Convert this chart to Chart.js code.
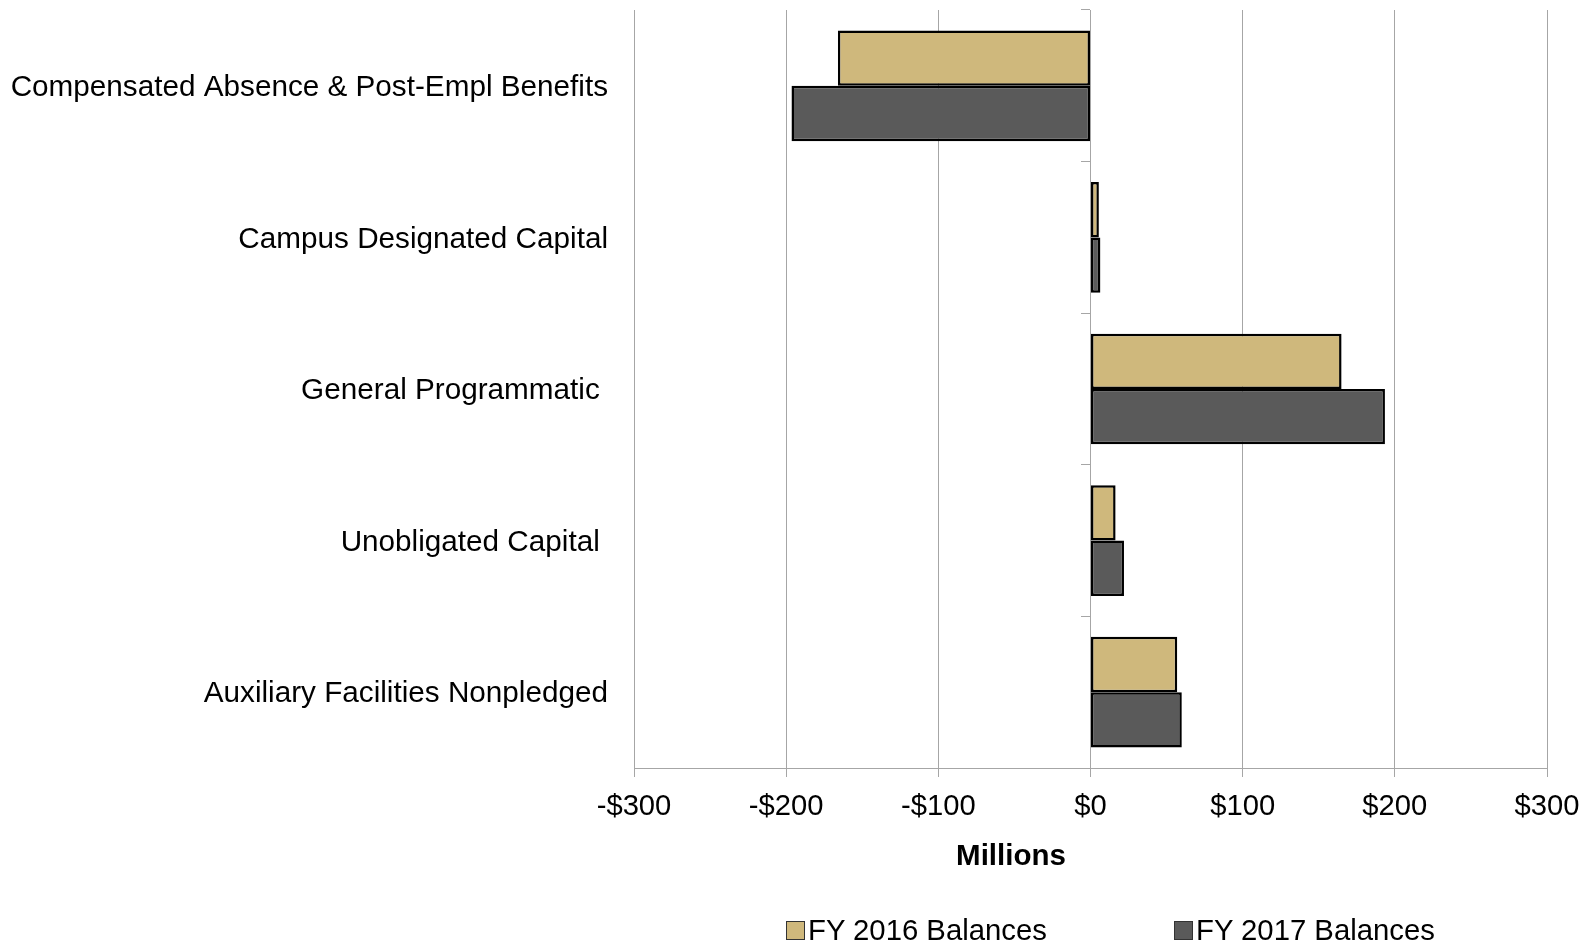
<!DOCTYPE html>
<html>
<head>
<meta charset="utf-8">
<script src="https://cdn.jsdelivr.net/npm/chart.js@4.4.0/dist/chart.umd.min.js"></script>
<style>
  html, body { margin: 0; padding: 0; background: #fff; }
  #wrap { position: relative; width: 1585px; height: 944px; }
  #legend { position: absolute; left: 0; top: 0; width: 1585px; height: 944px; pointer-events: none;
            font-family: "Liberation Sans", Arial, sans-serif; font-size: 29.3px; color: #000; }
  .item { position: absolute; top: 913px; height: 34px; line-height: 34px; white-space: nowrap; }
  .box { display: inline-block; width: 17px; height: 17px; border: 1px solid #333; vertical-align: middle; margin-right: 3px; position: relative; top: -2px; }
</style>
</head>
<body>
<div id="wrap">
  <canvas id="c" width="1585" height="944"></canvas>
  <div id="legend"></div>
</div>
<script>
const categories = [
  "Compensated Absence & Post-Empl Benefits",
  "Campus Designated Capital",
  "General Programmatic ",
  "Unobligated Capital ",
  "Auxiliary Facilities Nonpledged"
];
const seriesNames = ["FY 2016 Balances", "FY 2017 Balances"];
const fy2016 = [-166, 5.5, 165, 16.5, 57];
const fy2017 = [-196.5, 6.5, 193.5, 22, 60];
const tickValues = [-300, -200, -100, 0, 100, 200, 300];
const axisTitle = "Millions";
const colors = ["#CFB87C", "#5A5A5A"];

const FONT = '"Liberation Sans", Arial, sans-serif';
const grey = "#a6a6a6";

const titlePlugin = {
  id: "xTitle",
  afterDraw(chart) {
    const ctx = chart.ctx;
    ctx.save();
    ctx.font = "bold 29.5px " + FONT;
    ctx.fillStyle = "#000";
    ctx.textAlign = "center";
    ctx.textBaseline = "middle";
    ctx.fillText(axisTitle, 1011, 857);
    ctx.restore();
  }
};

function zeroPad(scale) {
  scale.paddingTop = 0; scale.paddingBottom = 0;
}

new Chart(document.getElementById("c"), {
  type: "bar",
  data: {
    labels: categories,
    datasets: [
      { label: seriesNames[0], data: fy2016, backgroundColor: colors[0], borderColor: "#000", borderWidth: 2.5, borderSkipped: false, yAxisID: "y" },
      { label: seriesNames[1], data: fy2017, backgroundColor: colors[1], borderColor: "#000", borderWidth: 2.5, borderSkipped: false, yAxisID: "y" }
    ]
  },
  options: {
    indexAxis: "y",
    responsive: false,
    animation: false,
    datasets: { bar: { categoryPercentage: 0.73, barPercentage: 1.0 } },
    layout: { padding: { left: 0, right: 38, top: 10, bottom: 118 } },
    plugins: { legend: { display: false }, tooltip: { enabled: false } },
    scales: {
      x: {
        type: "linear",
        min: -300, max: 300,
        afterBuildTicks(scale) { scale.ticks = tickValues.map(v => ({ value: v })); },
        afterFit(scale) { scale.height = 58; scale.paddingLeft = 0; scale.paddingRight = 0; },
        grid: { color: grey, lineWidth: 1, tickLength: 9, drawTicks: true },
        border: { display: true, color: grey, width: 1 },
        ticks: {
          padding: 12,
          color: "#000",
          font: { family: FONT, size: 29.2 },
          callback: v => (v < 0 ? "-$" + Math.abs(v) : "$" + v)
        }
      },
      y: {
        type: "category",
        position: "left",
        afterFit(scale) { scale.width = 634; zeroPad(scale); },
        grid: { display: false, drawTicks: false },
        border: { display: false },
        ticks: { padding: 26, labelOffset: 2, color: "#000", font: { family: FONT, size: 29.7 } }
      },
      y2: {
        type: "category",
        labels: categories,
        position: { x: 0 },
        offset: true,
        afterFit(scale) { zeroPad(scale); },
        grid: { display: true, offset: true, drawOnChartArea: false, drawTicks: true, tickLength: 9, color: grey },
        border: { display: true, color: grey, width: 1 },
        ticks: { display: false }
      }
    }
  },
  plugins: [titlePlugin]
});

const leg = document.getElementById("legend");
const lefts = [786, 1174];
seriesNames.forEach((n, i) => {
  const d = document.createElement("div");
  d.className = "item";
  d.style.left = lefts[i] + "px";
  d.innerHTML = '<span class="box" style="background:' + colors[i] + '"></span>' + n;
  leg.appendChild(d);
});
</script>
</body>
</html>
